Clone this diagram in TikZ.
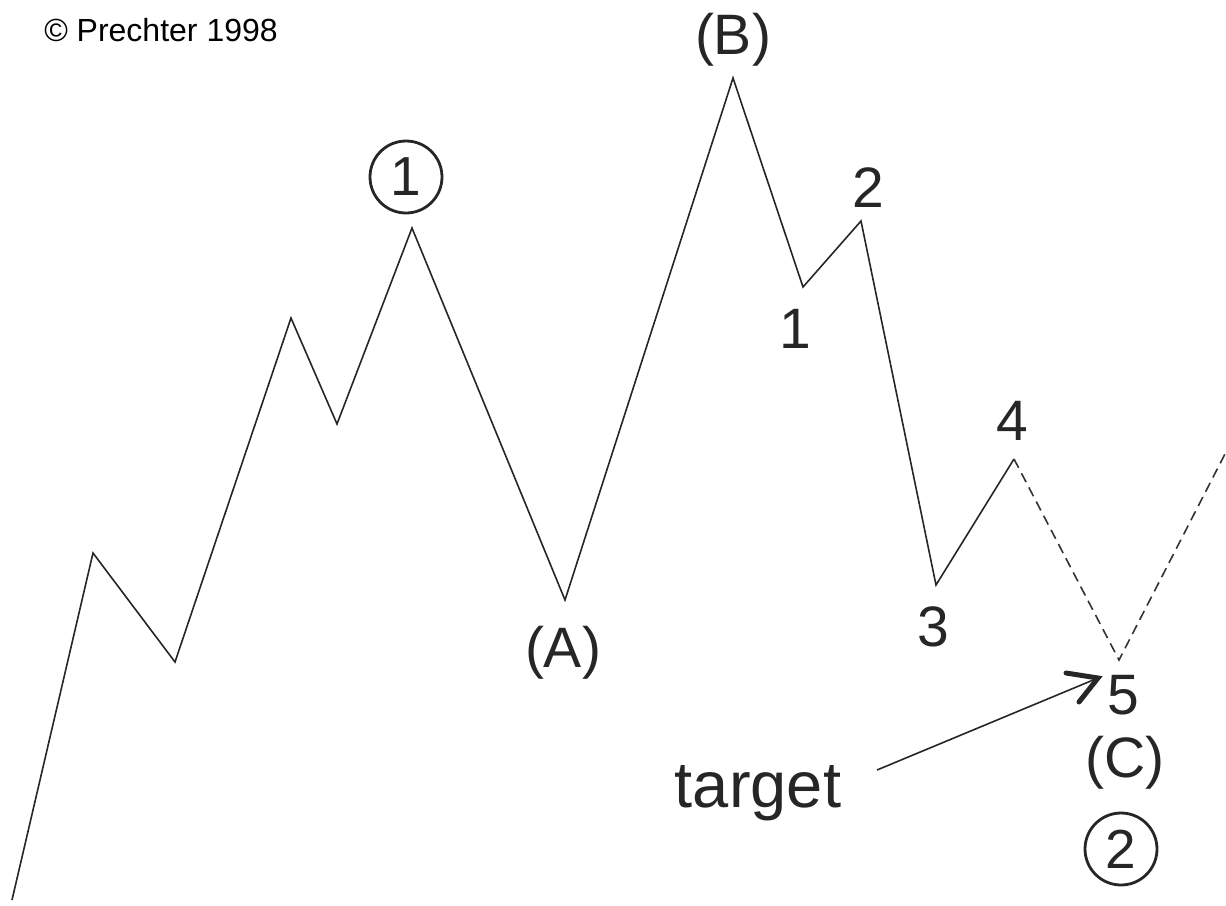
\documentclass[tikz,border=0pt]{standalone}
\usepackage{fontspec}
\setmainfont{Liberation Sans}
\begin{document}
\begin{tikzpicture}[x=1pt,y=-1pt,
  wave/.style={draw=black!85, line width=1.6pt, line join=miter},
  proj/.style={draw=black!80, line width=1.6pt, dash pattern=on 10pt off 6pt},
  lbl/.style={inner sep=0pt, font=\fontsize{57}{60}\selectfont, text=black!85},
  circ/.style={draw=black!85, line width=2.8pt, circle, minimum size=72pt, inner sep=0pt, font=\fontsize{55}{58}\selectfont, text=black!85},
  armst/.style={draw=black!85, line width=5pt, line cap=round}]
\useasboundingbox (0,0) rectangle (1226,905);
% wave points
\coordinate (p0) at (12,900);
\coordinate (p1) at (93,553);
\coordinate (p2) at (175,662);
\coordinate (p3) at (291,318);
\coordinate (p4) at (337,424);
\coordinate (p5) at (412,228);
\coordinate (pA) at (565,600);
\coordinate (pB) at (733,78);
\coordinate (s1) at (803,287);
\coordinate (s2) at (861,221);
\coordinate (s3) at (936,585);
\coordinate (s4) at (1014,459);
\coordinate (s5) at (1119,660);
\coordinate (pe) at (1226,452);
\draw[wave] (p0) -- (p1) -- (p2) -- (p3) -- (p4) -- (p5) -- (pA) -- (pB) -- (s1) -- (s2) -- (s3) -- (s4);
\draw[proj] (s4) -- (s5) -- (pe);
% labels
\node[anchor=center, inner sep=0pt, font=\fontsize{32}{36}\selectfont] (copy) at (161,30) {© Prechter 1998};
\node[circ] (c1) at (406,177) {1};
\node[lbl] (lB) at (733,40) {(B)};
\node[lbl] (lA) at (563,653) {(A)};
\node[lbl] (l1) at (795,329) {1};
\node[lbl] (l2) at (868,188) {2};
\node[lbl] (l3) at (933,627) {3};
\node[lbl] (l4) at (1012,421) {4};
\node[lbl] (l5) at (1123,695) {5};
\node[lbl] (lC) at (1125,763) {(C)};
\node[circ] (c2) at (1121,849) {2};
\node[inner sep=0pt, font=\fontsize{65}{70}\selectfont, text=black!85, anchor=base] (tg) at (758,807) {target};
% arrow
\coordinate (astart) at (877,770);
\coordinate (tip) at (1098,678);
\draw[draw=black!85, line width=1.6pt] (astart) -- (tip);
\draw[armst] (1066,673) -- (tip) -- (1079,702);
\end{tikzpicture}
\end{document}
